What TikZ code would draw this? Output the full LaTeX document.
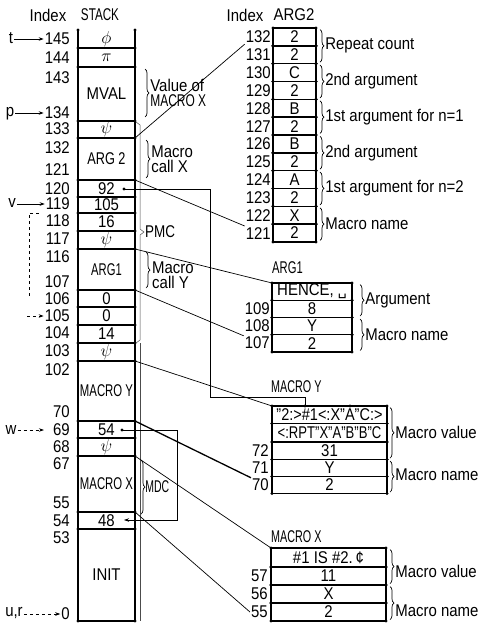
\documentclass[tikz,border=0pt]{standalone}
\usepackage{graphicx}
\usepackage{fontspec}
\setmainfont{Liberation Sans}[FakeStretch=0.88]
\newfontfamily\dejavu{DejaVu Sans}
\usetikzlibrary{decorations.pathreplacing,arrows.meta,calc}
\newcommand\sx[2]{\scalebox{#1}[1]{#2}}
\tikzset{
  every node/.style={font=\fontsize{17}{19}\selectfont, inner sep=1pt},
  cell/.style={draw, line width=1.4pt, anchor=north west, inner sep=0pt, outer sep=0pt},
  scell/.style={anchor=north west, inner sep=0pt, outer sep=0pt, minimum width=57pt},
  idx/.style={anchor=east},
  conn/.style={line width=0.7pt},
  ptr/.style={line width=0.7pt, -{Stealth[length=5pt,width=3.5pt]}},
  br/.style={decorate, decoration={brace, amplitude=4pt}, line width=0.7pt},
  two/.style={align=left, font=\fontsize{17}{15}\selectfont},
  stkline/.style={line width=1.4pt}
}
\newcommand\stk[4]{\node[scell, minimum height=#3pt] (#1) at (78,#2) {#4};}
\newcommand\rcell[6]{\node[cell, minimum width=#4pt, minimum height=#5pt] (#1) at (#2,#3) {#6};
  \fill (#1.north west) circle[radius=1.7pt] (#1.north east) circle[radius=1.7pt]
        (#1.south west) circle[radius=1.7pt] (#1.south east) circle[radius=1.7pt];}
\newcommand\bracelab[5]{\draw[br] ($(#1.north east)+(#4,1.5)$) -- ($(#2.south east)+(#4,-1.5)$)
  node[midway, right=4pt, yshift=#5] {#3};}
\begin{document}
\begin{tikzpicture}[x=1pt,y=-1pt]
\useasboundingbox (0,0) rectangle (489,623);

% headers
\node (hidx) at (48,15) {Index};
\node (hstk) at (100,15) {\sx{0.78}{STACK}};
\node (hidx2) at (245,15) {Index};
\node (harg2) at (294,15) {ARG2};
\node[anchor=west] (hg1) at (271,268) {\sx{0.75}{ARG1}};
\node[anchor=west] (hmy) at (270,387) {\sx{0.72}{MACRO Y}};
\node[anchor=west] (hmx) at (270,537) {\sx{0.72}{MACRO X}};

% stack cells
\stk{s145}{30}{18}{$\phi$}
\stk{s144}{48}{19}{$\pi$}
\stk{mval}{67}{54}{MVAL}
\stk{s133}{121}{17}{$\psi$}
\stk{arg2}{138}{42}{\sx{0.85}{ARG 2}}
\stk{s120}{180}{17}{92}
\stk{s119}{197}{16}{105}
\stk{s118}{213}{18}{16}
\stk{s117}{231}{18}{$\psi$}
\stk{arg1}{249}{41}{\sx{0.75}{ARG1}}
\stk{s106}{290}{17}{0}
\stk{s105}{307}{18}{0}
\stk{s104}{325}{18}{14}
\stk{s103}{343}{18}{$\psi$}
\stk{macy}{361}{60}{\sx{0.76}{MACRO Y}}
\stk{s69}{421}{17}{54}
\stk{s68}{438}{18}{$\psi$}
\stk{macx}{456}{56}{\sx{0.76}{MACRO X}}
\stk{s54}{512}{17}{48}
\stk{init}{529}{92}{INIT}

\draw[stkline] (s145.north west) -- (init.south west);
\draw[stkline] (s145.north east) -- (init.south east);
\fill (s145.north west) circle[radius=1.7pt] (s145.north east) circle[radius=1.7pt];
\foreach \nm in {s145,s144,mval,s133,arg2,s120,s119,s118,s117,arg1,s106,s105,s104,s103,macy,s69,s68,macx,s54,init}{
  \draw[stkline] (\nm.south west) -- (\nm.south east);
  \fill (\nm.south west) circle[radius=1.7pt] (\nm.south east) circle[radius=1.7pt];
}

% stack index labels
\foreach \nm/\y in {145/39,144/58,143/78,134/113,133/129,132/148,121/170,120/189,119/204,118/221,117/239,116/257,107/282,106/299,105/316,104/333,103/351,102/370,70/412,69/430,68/447,67/464,55/503,54/521,53/538,0/614}
  \node[idx] (i\nm) at (71,\y) {\nm};

% pointers
\node (pt) at (11,38) {t};
\draw[ptr] (pt.east |- i145.west) -- (i145.west);
\node (pp) at (10,114) {p};
\draw[ptr] (pp.east |- i134.west) -- (i134.west);
\node (pv) at (12,203) {v};
\draw[ptr] (pv.east |- i119.west) -- (i119.west);
\node (pw) at (11,430) {w};
\draw[ptr,dashed] (pw.east |- i69.west) -- ($(i69.west)+(-8,0)$);
\node (pur) at (14,613) {u,r};
\draw[ptr,dashed] (pur.east |- i0.west) -- (i0.west);
\coordinate (vd1) at (39,213);
\coordinate (vd2) at (29,213);
\coordinate (vd3) at (29,296);
\draw[dashed, line width=0.5pt] (vd1) -- (vd2) -- (vd3);
\coordinate (q105) at (27,316);
\draw[ptr,dashed] (q105) -- (i105.west);

% thin line and PMC / MDC brackets
\draw[line width=0.5pt, black!70] (136,122) -- (140,125) -- (140,229) -- (144,232) -- (140,235) -- (140,340) -- (136,343);
\draw[line width=0.5pt, black!70] (140,343) -- (140,621);
\node[anchor=west] (pmc) at (144,232) {\sx{0.9}{PMC}};
\draw[br] (141,460) -- (141,514) node[midway, right=3pt] (mdc) {\sx{0.7}{MDC}};

% braces on stack
\draw[br] (145,69) -- (145,117) node[midway, right=4pt, two] (valx) {Value of\\\sx{0.8}{MACRO X}};
\draw[br] (146,140) -- (146,178) node[midway, right=4pt, two] (callx) {Macro\\call X};
\draw[br] (146,252) -- (146,288);
\node[anchor=west, two] (cally) at (151,275) {Macro\\call Y};

% ARG2
\foreach \i/\v [count=\k from 0] in {132/2,131/2,130/C,129/2,128/B,127/2,126/B,125/2,124/A,123/2,122/X,121/2}{
  \pgfmathsetmacro\yt{28+17.83*\k}
  \rcell{a\i}{273}{\yt}{43}{17.83}{\v}
  \node[idx] (la\i) at (272,{\yt+9}) {\i};
}
\bracelab{a132}{a131}{Repeat count}{4}{0pt}
\bracelab{a130}{a129}{2nd argument}{4}{0pt}
\bracelab{a128}{a127}{1st argument for n=1}{4}{0pt}
\bracelab{a126}{a125}{2nd argument}{4}{0pt}
\bracelab{a124}{a123}{1st argument for n=2}{4}{0pt}
\bracelab{a122}{a121}{Macro name}{4}{0pt}

% ARG1
\rcell{g1}{272}{283}{80}{17.25}{HENCE, {\dejavu\fontsize{14}{16}\selectfont ␣}}
\rcell{g2}{272}{300.25}{80}{17.25}{8}
\rcell{g3}{272}{317.5}{80}{17.25}{Y}
\rcell{g4}{272}{334.75}{80}{17.25}{2}
\node[idx] (lg109) at (271,309) {109};
\node[idx] (lg108) at (271,326) {108};
\node[idx] (lg107) at (271,343) {107};
\bracelab{g1}{g2}{Argument}{8}{0pt}
\bracelab{g3}{g4}{Macro name}{8}{0pt}

% MACRO Y
\rcell{y1}{272}{406}{115}{17.5}{\sx{0.97}{"2:>\#1<:X"A"C:>}}
\rcell{y2}{272}{423.5}{115}{18.5}{\sx{0.875}{<:RPT"X"A"B"B"C}}
\rcell{y3}{272}{442}{115}{17.5}{31}
\rcell{y4}{272}{459.5}{115}{17}{Y}
\rcell{y5}{272}{476.5}{115}{17}{2}
\node[idx] (ly72) at (270,451) {72};
\node[idx] (ly71) at (270,468) {71};
\node[idx] (ly70) at (270,485) {70};
\bracelab{y1}{y3}{Macro value}{3}{0pt}
\bracelab{y4}{y5}{Macro name}{3}{2pt}
\fill (350,406) circle[radius=1.7pt];

% MACRO X
\rcell{x1}{271}{548}{115}{19}{\#1 IS \#2.\,¢}
\rcell{x2}{271}{567}{115}{18}{11}
\rcell{x3}{271}{585}{115}{18}{X}
\rcell{x4}{271}{603}{115}{18}{2}
\node[idx] (lx57) at (269,576) {57};
\node[idx] (lx56) at (269,594) {56};
\node[idx] (lx55) at (269,612) {55};
\bracelab{x1}{x2}{Macro value}{4}{-5pt}
\bracelab{x3}{x4}{Macro name}{4}{-8pt}

% pointer connectors inside stack
\coordinate (p92) at (124,189);
\coordinate (ytop) at (305,406);
\fill (p92) circle[radius=1.7pt] (ytop) circle[radius=1.7pt];
\draw[conn] (p92) -- (210,189) -- (210,397) -- (305,397) -- (ytop);
\coordinate (p54) at (122,430);
\coordinate (p48) at (124,520);
\fill (p54) circle[radius=1.7pt];
\draw[ptr] (p54) -- (177,430) -- (177,520) -- (p48);

% diagonal connectors
\draw[conn] (arg2.north east) -- (la132.south west);
\draw[conn] (arg2.south east) -- (la121.north west);
\draw[conn] (arg1.north east) -- (g1.north west);
\draw[conn] (arg1.south east) -- (lg107.north west);
\draw[conn] (macy.north east) -- (y1.north west);
\draw[conn, line width=1.3pt] (macy.south east) -- (ly70.north west);
\draw[conn] (macx.north east) -- (x1.north west);
\draw[conn] (macx.south east) -- (lx55.west);
\end{tikzpicture}
\end{document}
